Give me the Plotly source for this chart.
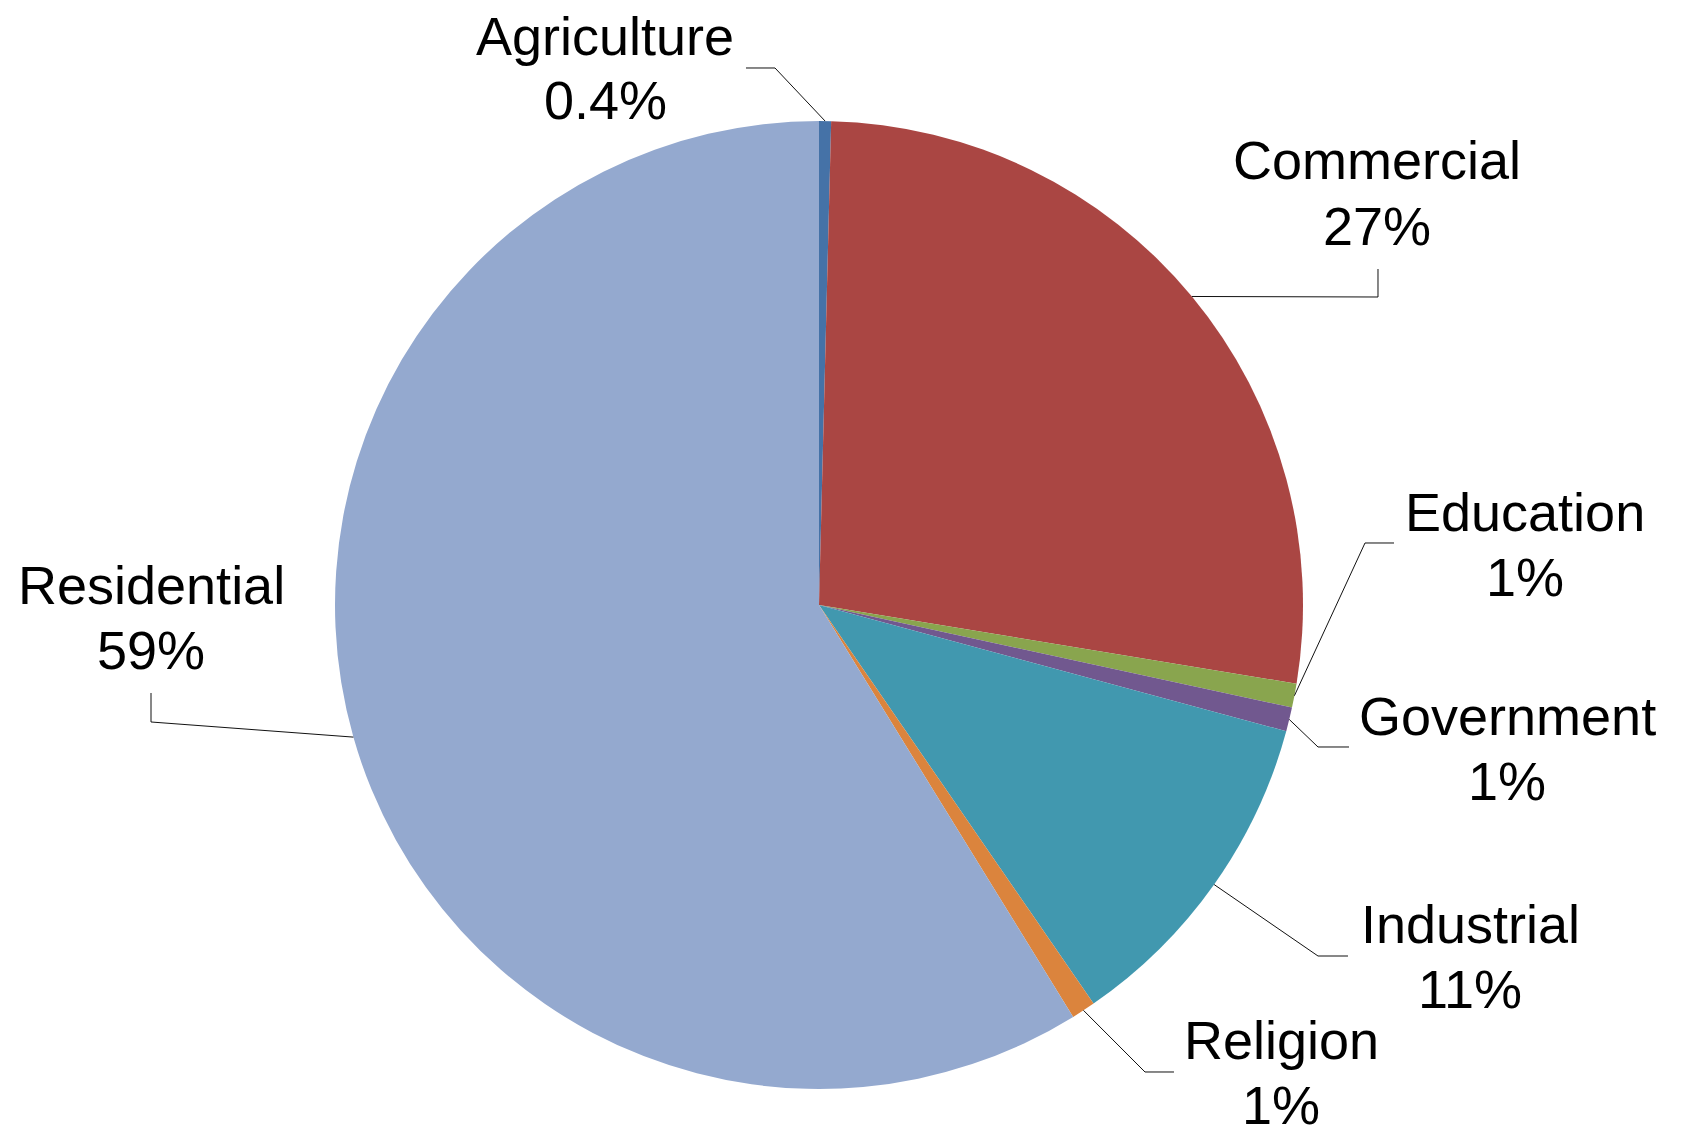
import math
import plotly.graph_objects as go

# Land-use shares (percent of total)
categories = ["Agriculture", "Commercial", "Education", "Government",
              "Industrial", "Religion", "Residential"]
shares = [0.4, 27.2, 0.8, 0.8, 11.2, 0.8, 58.8]

slice_colors = ["#4572A7", "#AA4643", "#89A54E", "#71588F",
                "#4198AF", "#DB843D", "#94A9CF"]

W, H = 1681, 1128
CX, CY, R = 819, 605, 484   # pie centre and radius in page pixels
LINE_GAP = 65               # vertical distance between the two label lines
FONT = dict(family="Arial, Liberation Sans, sans-serif", size=54, color="#000000")

# Label block centres and leader-line bend/end points (page pixels)
label_pos = {
    "Agriculture": (605, 68),
    "Commercial": (1377, 193),
    "Education": (1525, 544),
    "Government": (1507, 748),
    "Industrial": (1470, 956),
    "Religion": (1281, 1072),
    "Residential": (151, 617),
}
leader_pts = {
    "Agriculture": [(775, 68), (746, 68)],
    "Commercial": [(1378, 297), (1378, 269)],
    "Education": [(1365, 543), (1394, 543)],
    "Government": [(1318, 747), (1349, 747)],
    "Industrial": [(1318, 956), (1348, 956)],
    "Religion": [(1145, 1072), (1174, 1072)],
    "Residential": [(151, 722), (151, 693)],
}


def px(x):
    return x / W


def py(y):
    return 1 - y / H


def fmt_pct(v):
    return f"{v:.1f}%" if v < 0.5 else f"{round(v):.0f}%"


fig = go.Figure(go.Pie(
    labels=categories,
    values=shares,
    sort=False,
    direction="clockwise",
    rotation=0,
    textinfo="none",
    marker=dict(colors=slice_colors, line=dict(width=0)),
    domain=dict(x=[px(CX - R), px(CX + R)], y=[py(CY + R), py(CY - R)]),
    showlegend=False,
))

total = sum(shares)
cum = 0.0
shapes, annotations = [], []
for name, v in zip(categories, shares):
    mid = (cum + v / 2) / total * 2 * math.pi
    cum += v
    sx = CX + R * math.sin(mid)
    sy = CY - R * math.cos(mid)
    pts = [(sx, sy)] + leader_pts[name]
    path = "M " + " L ".join(f"{px(x):.5f},{py(y):.5f}" for x, y in pts)
    shapes.append(dict(type="path", path=path, xref="paper", yref="paper",
                       line=dict(color="#111111", width=1)))
    lx, ly = label_pos[name]
    for text, dy in ((name, -LINE_GAP / 2), (fmt_pct(v), LINE_GAP / 2)):
        annotations.append(dict(
            x=px(lx), y=py(ly + dy), xref="paper", yref="paper",
            text=text, showarrow=False,
            xanchor="center", yanchor="middle", align="center",
            font=FONT,
        ))

fig.update_layout(
    width=W, height=H,
    margin=dict(l=0, r=0, t=0, b=0),
    paper_bgcolor="white",
    plot_bgcolor="white",
    shapes=shapes,
    annotations=annotations,
)

fig.write_html("out.html")
